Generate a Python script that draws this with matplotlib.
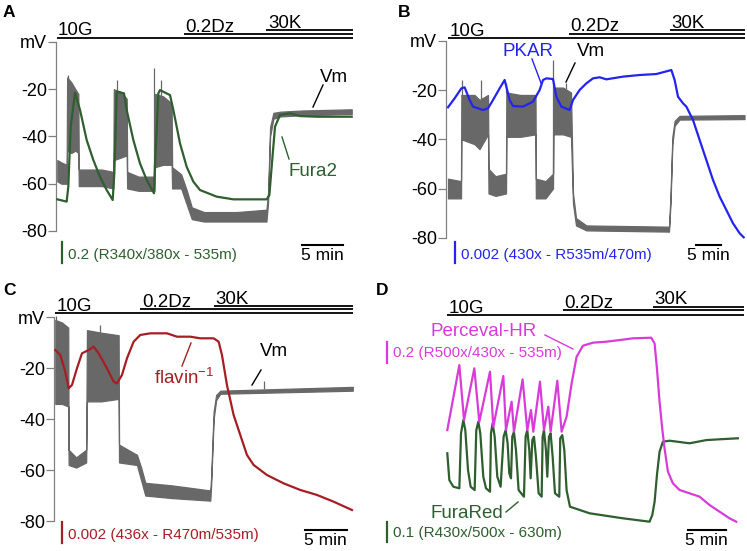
import numpy as np
import matplotlib.pyplot as plt
from matplotlib.lines import Line2D
from matplotlib.transforms import Affine2D, blended_transform_factory

W, H = 747, 551
plt.rcParams['font.family'] = ['Liberation Sans', 'DejaVu Sans']
plt.rcParams['mathtext.fontset'] = 'custom'
plt.rcParams['mathtext.rm'] = 'Liberation Sans'
plt.rcParams['mathtext.default'] = 'regular'

GRAY = '#686868'
GREEN = '#2f5e2f'
BLUE = '#2424ee'
RED = '#a51e24'
MAGENTA = '#d83cd8'

# ---- stimulus protocol (min) ----
stim_labels = ['10G', '0.2Dz', '30K']
a_stim_on = [0.0, 15.5, 25.6]
a_end = 36.2
b_stim_on = [0.0, 24.1, 44.4]
b_end = 59.4
c_stim_on = [0.0, 10.2, 19.0]
c_end = 35.7
d_stim_on = [0.0, 15.4, 27.4]
d_end = 39.5

# ---- panel A: Vm envelope (mV) and Fura2 ratio ----
a_vm_t = [0.10, 0.6, 1.24, 1.30, 1.8, 2.3, 2.66, 2.72, 4.0, 5.5, 6.93, 6.99, 7.8, 8.56, 8.62,
          10.0, 11.95, 12.01, 13.0, 14.04, 14.1, 15.2, 15.9, 16.5, 18.0, 22.0, 25.6, 25.8,
          26.05, 26.45, 27.3, 30.0, 36.0]
a_vm_lo = [-59, -60, -60, -46, -47, -46, -47, -61, -61, -61, -62, -50, -49, -48, -62,
           -63, -63, -53, -52, -52, -62, -62, -69, -75, -76, -76, -76, -68,
           -40, -32.5, -31.5, -31, -30.5]
a_vm_hi = [-50, -51, -52, -15, -17, -20, -22, -54, -54, -54, -55, -20, -21, -24, -55,
           -57, -57, -22, -23, -26, -53, -56, -63, -70, -72, -72, -71, -64,
           -36, -30, -29.5, -29, -28.5]
a_spk_t = [1.45, 7.34, 11.93, 12.74]
a_spk_v = [-14, -16, -11, -16]
a_fura_t = [0.10, 1.24, 1.44, 1.73, 2.26, 2.87, 3.68, 4.49, 5.30, 6.12, 6.85, 7.05, 7.34, 8.23,
            8.56, 9.37, 10.18, 11.00, 11.89, 12.00, 12.42, 12.62, 13.84, 14.25, 15.06, 15.87,
            16.69, 17.50, 19.53, 21.57, 25.63, 25.96, 26.24, 26.65, 27.26, 28.48, 29.70,
            31.73, 36.00]
a_fura_r = [0.506, 0.485, 0.623, 1.177, 1.491, 1.331, 1.054, 0.869, 0.715, 0.592, 0.500, 0.746,
            1.500, 1.485, 1.331, 1.054, 0.838, 0.685, 0.562, 0.808, 1.485, 1.515, 1.469, 1.331,
            1.023, 0.808, 0.669, 0.592, 0.531, 0.506, 0.506, 0.546, 0.808, 1.177, 1.285, 1.300,
            1.275, 1.269, 1.269]

# ---- panel B: Vm envelope and PKAR ratio ----
b_vm_t = [0, 2.6, 2.67, 5.3, 6.3, 8.0, 8.1, 9.5, 11.6, 11.67, 14.5, 17.5, 17.57, 19.5, 21.0,
          21.07, 23.0, 24.6, 25.0, 25.6, 27.67, 44.2, 44.5, 44.87, 45.33, 46.3, 59.3]
b_vm_lo = [-64, -64, -40, -42, -44, -38, -62, -63, -62, -39, -39, -38, -64, -64, -60,
           -38, -38, -39, -66, -75, -77, -77.5, -66, -42, -34.5, -32, -31.8]
b_vm_hi = [-56, -57, -22, -22, -24, -22, -52, -55, -54, -21, -22, -22, -56, -57, -54,
           -19, -19, -21, -62, -72, -75, -75.5, -63, -39, -32.5, -30.5, -30.2]
b_spk_t = [2.87, 6.67, 11.67, 21.0, 23.6]
b_spk_v = [-16, -16, -17, -8, -17]
b_pkar_t = [0, 1.33, 2.67, 3.33, 4.33, 5.0, 7.0, 8.0, 9.0, 10.33, 11.33, 11.67, 12.33, 13.0,
            15.0, 17.0, 18.33, 19.0, 19.67, 21.0, 21.67, 22.67, 24.33, 25.0, 26.33, 27.67,
            29.0, 30.33, 31.67, 35.0, 38.33, 41.67, 44.67, 45.33, 46.0, 47.0, 47.67, 49.0,
            50.33, 51.67, 53.0, 54.33, 55.67, 57.0, 58.33, 59.13]
b_pkar_r = [1.00025, 1.00108, 1.00200, 1.00209, 1.00092, 1.00031, 1.00000, 1.00015, 1.00092,
            1.00200, 1.00277, 1.00215, 1.00092, 1.00037, 1.00031, 1.00077, 1.00185, 1.00277,
            1.00292, 1.00286, 1.00123, 1.00031, 1.00000, 1.00092, 1.00185, 1.00246, 1.00292,
            1.00302, 1.00283, 1.00308, 1.00323, 1.00332, 1.00369, 1.00277, 1.00123, 1.00062,
            1.00031, 0.99908, 0.99723, 0.99538, 0.99354, 0.99200, 0.99077, 0.98954, 0.98862,
            0.98825]

# ---- panel C: Vm envelope and inverse flavin ratio ----
c_vm_t = [0, 0.8, 1.55, 1.6, 2.5, 3.7, 3.8, 5.5, 7.6, 7.65, 9.8, 10.3, 10.8, 14.0, 18.6,
          18.7, 19.0, 19.3, 19.8, 35.7]
c_vm_lo = [-34, -34, -35, -58, -59, -57, -33, -33, -32, -57, -58, -64, -70, -71, -72,
           -66, -40, -32.5, -30, -28.8]
c_vm_hi = [-1, -2, -4, -52, -55, -52, -5, -6, -7, -50, -54, -59, -65, -66, -68,
           -63, -37, -30.5, -28.8, -27.3]
c_spk_t = [0.1, 5.4, 25.0]
c_spk_v = [0.5, -3, -25]
c_flav_t = [0, 0.6, 1.2, 1.6, 2.0, 2.6, 3.2, 4.0, 4.6, 5.2, 6.2, 7.0, 7.4, 8.0, 8.6, 9.4,
            10.2, 11.4, 13.4, 14.6, 16.2, 17.4, 19.0, 19.6, 20.0, 20.6, 21.4, 22.2, 23.0,
            23.8, 25.4, 27.4, 29.4, 31.4, 33.4, 35.6]
c_flav_r = [1.00323, 1.00277, 1.00123, 0.99969, 1.00000, 1.00154, 1.00292, 1.00323, 1.00354,
            1.00292, 1.00154, 1.00031, 1.00015, 1.00092, 1.00246, 1.00400, 1.00462, 1.00477,
            1.00477, 1.00446, 1.00446, 1.00431, 1.00431, 1.00400, 1.00277, 1.00000, 0.99723,
            0.99538, 0.99354, 0.99262, 0.99169, 0.99092, 0.99031, 0.98985, 0.98923, 0.98846]

# ---- panel D: Perceval-HR and FuraRed ratios ----
d_perc_t = [0.04, 1.64, 2.26, 3.63, 4.29, 5.71, 6.15, 7.48, 7.83, 8.58, 8.89, 10.04, 10.66,
            11.15, 11.46, 12.35, 12.88, 13.45, 13.76, 14.65, 15.22, 15.88, 16.55, 17.21,
            18.05, 19.38, 21.15, 22.92, 24.69, 27.12, 27.57, 27.88, 28.23, 28.58, 28.89,
            29.34, 30.0, 30.88, 32.21, 33.54, 34.87, 36.19, 37.52, 38.41]
d_perc_r = [1.015, 1.615, 1.108, 1.585, 1.092, 1.554, 1.046, 1.514, 1.015, 1.277, 1.000,
            1.483, 1.015, 1.200, 1.000, 1.462, 1.015, 1.231, 1.000, 1.471, 1.000, 1.138,
            1.446, 1.692, 1.794, 1.822, 1.831, 1.846, 1.862, 1.868, 1.815, 1.585, 1.277,
            1.031, 0.846, 0.631, 0.523, 0.462, 0.431, 0.400, 0.323, 0.262, 0.200, 0.169]
d_fred_t = [0.04, 0.31, 0.84, 1.64, 1.86, 2.17, 2.43, 2.79, 3.14, 3.67, 3.89, 4.16, 4.42,
            4.82, 5.18, 5.71, 5.84, 6.06, 6.33, 6.68, 7.12, 7.52, 7.79, 8.05, 8.27, 8.50,
            8.67, 8.89, 9.16, 9.51, 10.22, 10.44, 10.66, 10.93, 11.11, 11.33, 11.55, 11.81,
            12.17, 12.57, 12.70, 12.88, 13.14, 13.32, 13.54, 13.76, 14.03, 14.34, 14.91,
            15.04, 15.31, 15.58, 15.88, 16.33, 18.94, 23.36, 26.90, 27.26, 27.57, 27.88,
            28.23, 28.67, 29.56, 32.21, 34.42, 36.64, 38.63]
d_fred_r = [1.342, 1.208, 1.175, 1.167, 1.442, 1.508, 1.458, 1.258, 1.175, 1.158, 1.458,
            1.500, 1.442, 1.225, 1.167, 1.150, 1.442, 1.492, 1.425, 1.225, 1.175, 1.425,
            1.458, 1.392, 1.242, 1.217, 1.425, 1.450, 1.358, 1.158, 1.125, 1.425, 1.458,
            1.358, 1.217, 1.408, 1.425, 1.325, 1.142, 1.125, 1.425, 1.458, 1.358, 1.225,
            1.425, 1.442, 1.325, 1.142, 1.125, 1.417, 1.433, 1.358, 1.158, 1.075, 1.042,
            1.017, 1.000, 1.033, 1.100, 1.233, 1.350, 1.400, 1.405, 1.392, 1.408, 1.413,
            1.417]

fig = plt.figure(figsize=(W / 100, H / 100), dpi=100)
PX = Affine2D().scale(1.0 / W, -1.0 / H).translate(0, 1) + fig.transFigure


def make_axes(rect, t0_px, px_min, v_ref, py_ref, px_unit):
    left, right, top, bottom = rect
    ax = fig.add_axes([left / W, 1 - bottom / H, (right - left) / W, (bottom - top) / H])
    ax.set_xlim((left - t0_px) / px_min, (right - t0_px) / px_min)
    ax.set_ylim(v_ref - (bottom - py_ref) / px_unit, v_ref + (py_ref - top) / px_unit)
    ax.patch.set_visible(False)
    return ax


def twin_axes(ax, rect, v_ref, py_ref, px_unit):
    left, right, top, bottom = rect
    ax2 = fig.add_axes(ax.get_position())
    ax2.set_xlim(ax.get_xlim())
    ax2.set_ylim(v_ref - (bottom - py_ref) / px_unit, v_ref + (py_ref - top) / px_unit)
    ax2.axis('off')
    return ax2


def style_vm(ax):
    for s in ['top', 'right', 'bottom']:
        ax.spines[s].set_visible(False)
    ax.spines['left'].set_bounds(-80, 0)
    ax.spines['left'].set_color('#808080')
    ax.spines['left'].set_linewidth(0.9)
    ax.set_xticks([])
    ax.set_yticks([0, -20, -40, -60, -80])
    ax.set_yticklabels(['mV', '-20', '-40', '-60', '-80'])
    ax.tick_params(axis='y', length=6, width=0.9, color='#808080', labelsize=13, pad=0.5)


def stim_bars(ax, ons, end, ys, px_min):
    bt = blended_transform_factory(ax.transData, PX)
    for lab, t_on, y in zip(stim_labels, ons, ys):
        ax.plot([t_on, end], [y, y], transform=bt, color='k', lw=1.3, clip_on=False,
                solid_capstyle='butt')
        ax.text(t_on + 1.5 / px_min, y - 2.2, lab, transform=bt, fontsize=13.5,
                va='baseline', ha='left')


def draw_vm(ax, t, lo, hi, spk_t, spk_v):
    ax.fill_between(t, lo, hi, color=GRAY, lw=0.9, edgecolor=GRAY)
    base = np.interp(spk_t, t, hi)
    ax.vlines(spk_t, base, spk_v, color=GRAY, lw=0.9)


def to_data(ax, x, y):
    return ax.transData.inverted().transform(PX.transform((x, y)))


def vbar(ax, x, y_bot, length, color, label, tx, ty):
    x0, y0 = to_data(ax, x, y_bot)
    ax.plot([x0, x0], [y0, y0 + length], color=color, lw=1.6, clip_on=False)
    fig.text(tx, ty, label, transform=PX, color=color, fontsize=11, va='center')


def time_bar(ax, x, y, minutes=5):
    x0, y0 = to_data(ax, x, y)
    ax.plot([x0, x0 + minutes], [y0, y0], color='k', lw=1.5, clip_on=False)
    cx = PX.inverted().transform(ax.transData.transform((x0 + minutes / 2, y0)))[0]
    fig.text(cx, y + 3, '5 min', transform=PX, fontsize=12.5, ha='center', va='top')


def pointer(x0, y0, x1, y1, color):
    fig.add_artist(Line2D([x0, x1], [y0, y1], transform=PX, color=color, lw=1.0))


def label(x, y, s, color, size=13.5):
    fig.text(x, y, s, transform=PX, color=color, fontsize=size, va='center')


# ---------------- Panel A ----------------
rA = (56, 362, 0, 275)
axA = make_axes(rA, 56.5, 8.2, 0, 42.0, 2.362)
axA2 = twin_axes(axA, rA, 0.5, 200.0, 108.3)
style_vm(axA)
draw_vm(axA, a_vm_t, a_vm_lo, a_vm_hi, a_spk_t, a_spk_v)
axA2.plot(a_fura_t, a_fura_r, color=GREEN, lw=1.6)
stim_bars(axA, a_stim_on, a_end, [37.5, 33.8, 30.3], 8.2)
label(320, 77, 'Vm', 'k')
pointer(323, 85, 313, 107, 'k')
label(289, 171, 'Fura2', GREEN)
pointer(289, 159, 282, 137, GREEN)
vbar(axA2, 61.7, 263.3, 0.2, GREEN, '0.2 (R340x/380x - 535m)', 68, 255)
time_bar(axA, 302, 245)
fig.text(3, 5, 'A', transform=PX, fontsize=12.5, fontweight='bold', va='top')

# ---------------- Panel B ----------------
rB = (446, 747, 0, 275)
axB = make_axes(rB, 448, 5.0, 0, 40.8, 2.462)
axB2 = twin_axes(axB, rB, 1.0, 110.0, 10833.0)
style_vm(axB)
draw_vm(axB, b_vm_t, b_vm_lo, b_vm_hi, b_spk_t, b_spk_v)
axB2.plot(b_pkar_t, b_pkar_r, color=BLUE, lw=1.6)
stim_bars(axB, b_stim_on, b_end, [37.7, 33.5, 30.0], 5.0)
label(503, 52, 'PKAR', BLUE)
pointer(532, 59, 541, 83, BLUE)
label(577, 52, 'Vm', 'k')
pointer(575, 63, 566, 82, 'k')
vbar(axB2, 454.7, 263.3, 0.002, BLUE, '0.002 (430x - R535m/470m)', 461, 255)
time_bar(axB, 696, 245)
fig.text(398, 5, 'B', transform=PX, fontsize=12.5, fontweight='bold', va='top')

# ---------------- Panel C ----------------
rC = (54, 362, 280, 551)
axC = make_axes(rC, 55.3, 8.333, 0, 317.4, 2.545)
axC2 = twin_axes(axC, rC, 1.0, 385.0, 10833.0)
style_vm(axC)
draw_vm(axC, c_vm_t, c_vm_lo, c_vm_hi, c_spk_t, c_spk_v)
axC2.plot(c_flav_t, c_flav_r, color=RED, lw=1.6)
stim_bars(axC, c_stim_on, c_end, [313.0, 309.3, 305.7], 8.333)
label(154, 378, 'flavin$^{-1}$', RED)
pointer(182, 366, 191, 343, RED)
label(260, 352, 'Vm', 'k')
pointer(261, 370, 252, 385, 'k')
vbar(axC2, 62.3, 543.3, 0.002, RED, '0.002 (436x - R470m/535m)', 68, 535)
time_bar(axC, 305, 530)
fig.text(3, 283, 'C', transform=PX, fontsize=12.5, fontweight='bold', va='top')

# ---------------- Panel D ----------------
rD = (440, 747, 280, 551)
axD = make_axes(rD, 447, 7.53, 1.0, 521.7, 200.0)
axD2 = twin_axes(axD, rD, 1.0, 431.7, 108.3)
axD.axis('off')
axD.plot(d_fred_t, d_fred_r, color=GREEN, lw=1.6)
axD2.plot(d_perc_t, d_perc_r, color=MAGENTA, lw=1.6)
stim_bars(axD, d_stim_on, d_end, [315.0, 309.8, 306.7], 7.53)
label(430, 331, 'Perceval-HR', MAGENTA)
pointer(545, 335, 573, 349, MAGENTA)
vbar(axD2, 387, 363.3, 0.2, MAGENTA, '0.2 (R500x/430x - 535m)', 393, 353)
label(430, 513, 'FuraRed', GREEN)
pointer(506, 512, 518, 502, GREEN)
vbar(axD, 387, 541.7, 0.1, GREEN, '0.1 (R430x/500x - 630m)', 393, 533)
time_bar(axD, 688, 530)
fig.text(376, 283, 'D', transform=PX, fontsize=12.5, fontweight='bold', va='top')

fig.savefig('out.png', dpi=100)
